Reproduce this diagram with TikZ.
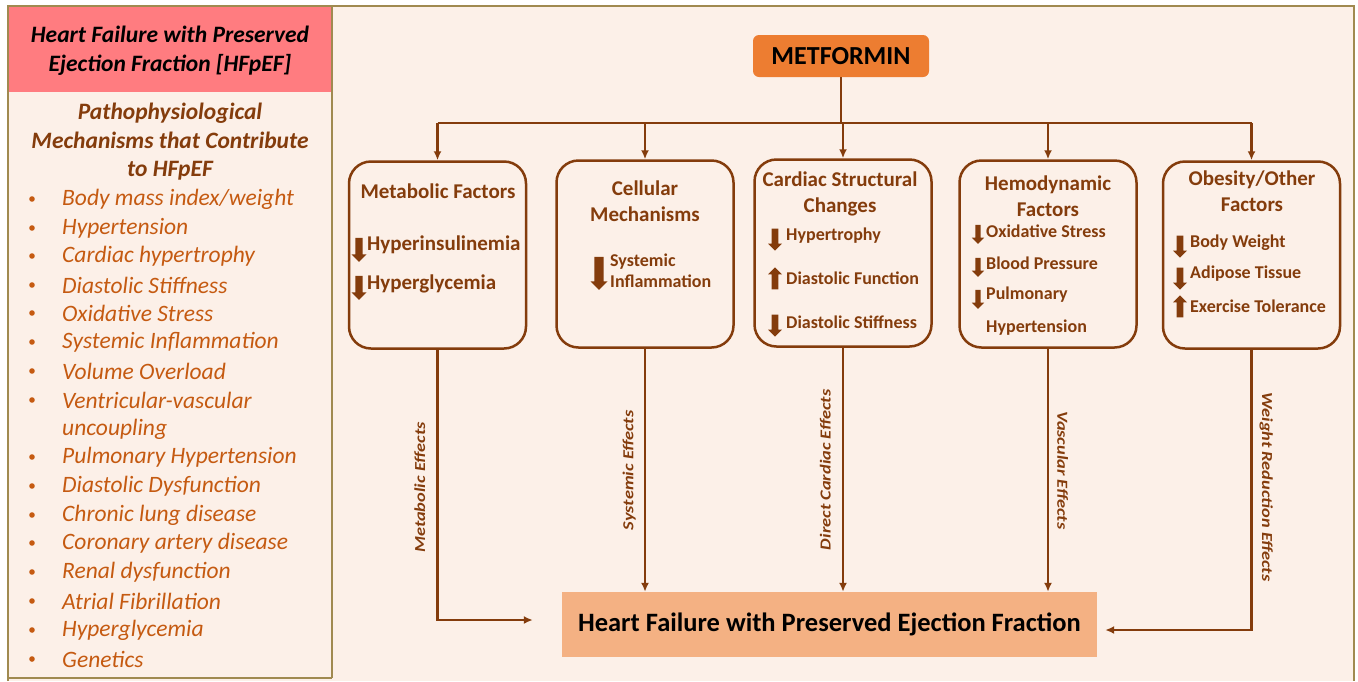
\documentclass[tikz,border=0pt]{standalone}
\usepackage{fontspec}
\setmainfont{Carlito}
\newfontfamily\effectfont[FakeStretch=1.2]{Carlito}
\usepackage{tikz}
\usetikzlibrary{calc,positioning,arrows.meta,shapes.arrows}

\definecolor{bgpeach}{RGB}{252,240,232}
\definecolor{frameolive}{RGB}{160,138,80}
\definecolor{headpink}{RGB}{255,124,128}
\definecolor{darkbrown}{RGB}{132,60,12}
\definecolor{itemorange}{RGB}{197,90,17}
\definecolor{metorange}{RGB}{237,125,49}
\definecolor{hfpeach}{RGB}{244,177,131}

\tikzset{
  factorbox/.style={draw=darkbrown, line width=2.5pt, rounded corners=22pt,
    minimum width=177pt, minimum height=187pt},
  boxtitle/.style={text=darkbrown, font=\fontsize{21}{25.5}\selectfont\bfseries,
    align=center, inner sep=0pt},
  boxitem/.style={text=darkbrown, font=\fontsize{18}{21}\selectfont\bfseries,
    anchor=west, inner sep=0pt},
  dnarr/.style={single arrow, fill=darkbrown, draw=none, shape border rotate=270,
    minimum height=22pt, minimum width=14pt, single arrow head extend=3.5pt,
    inner sep=3pt},
  uparr/.style={dnarr, shape border rotate=90},
  flow/.style={draw=darkbrown, line width=2.3pt},
  flowarr/.style={flow, -{Latex[length=9pt,width=8pt]}},
  effect/.style={text=darkbrown, font=\effectfont\fontsize{15.3}{17}\selectfont\bfseries\itshape,
    anchor=south, inner sep=9pt},
  leftitem/.style={text=itemorange, font=\fontsize{23.5}{26}\selectfont\itshape,
    anchor=west, inner sep=0pt}
}

\begin{document}
\begin{tikzpicture}[x=1pt, y=-1pt]
  \useasboundingbox (0,0) rectangle (1358,681);
  % frame and panels
  \fill[white] (0,0) rectangle (1358,681);
  \fill[bgpeach] (8,6) rectangle (1354,681);
  \draw[frameolive, line width=1.5pt] (8,681) -- (8,6) -- (1354,6) -- (1354,681);
  \draw[frameolive, line width=1.5pt] (332,6) -- (332,678);
  \draw[frameolive, line width=1.2pt] (8,678) -- (332,678);
  \fill[headpink] (9,7) rectangle (331,92);

  % left panel
  \node[font=\fontsize{23.5}{29}\selectfont\bfseries\itshape, align=center] (lhead) at (170,51)
    {Heart Failure with Preserved\\Ejection Fraction [HFpEF]};
  \node[text=darkbrown, font=\fontsize{23.5}{28.5}\selectfont\bfseries\itshape, align=center] (lsub) at (170,142)
    {Pathophysiological\\Mechanisms that Contribute\\to HFpEF};
  \foreach \yy/\t in {199/{Body mass index/weight}, 228/Hypertension, 256/Cardiac hypertrophy,
      285/Diastolic Stiffness, 313/Oxidative Stress, 342/Systemic Inflammation,
      371/Volume Overload, 400/Ventricular-vascular, 457/Pulmonary Hypertension,
      486/Diastolic Dysfunction, 515/Chronic lung disease, 543/Coronary artery disease,
      572/Renal dysfunction, 601/Atrial Fibrillation, 630/Hyperglycemia, 659/Genetics}{
    \fill[itemorange] (32,\yy) circle (2.8pt);
    \node[leftitem] at (62,\yy) {\t};
  }
  \node[leftitem] at (62,429) {uncoupling};

  % metformin and bus
  \node[fill=metorange, rounded corners=6pt, minimum width=176pt, minimum height=42pt,
    font=\fontsize{26}{28}\selectfont\bfseries] (met) at (841,56) {METFORMIN};
  \node[factorbox] (metab) at (437.5,255) {};
  \node[factorbox] (cell) at (645,254) {};
  \node[factorbox] (card) at (843,253) {};
  \node[factorbox] (hemo) at (1048,254) {};
  \node[factorbox] (obes) at (1251.5,255) {};
  \coordinate (bus) at (840,123);
  \draw[flow] (met.south) -- (met.south |- bus);
  \draw[flow] (bus -| metab.north) -- (bus -| obes.north);
  \foreach \b in {metab,cell,card,hemo,obes}
    \draw[flowarr] (bus -| \b.north) -- (\b.north);

  % box contents
  \node[boxtitle] (t1) at (438,191) {Metabolic Factors};
  \node[dnarr, minimum height=24pt, minimum width=15pt] (a11) at (359,248) {};
  \node[boxitem, font=\fontsize{21}{24}\selectfont\bfseries] at (367,245) {Hyperinsulinemia};
  \node[dnarr, minimum height=24pt, minimum width=15pt] (a12) at (359,286) {};
  \node[boxitem, font=\fontsize{21}{24}\selectfont\bfseries] at (367,284) {Hyperglycemia};

  \node[boxtitle] (t2) at (645,201) {Cellular\\Mechanisms};
  \node[dnarr, minimum height=33pt, minimum width=17pt, inner sep=4pt] (a21) at (599,271) {};
  \node[boxitem, align=left, font=\fontsize{18}{21}\selectfont\bfseries] at (610,271) {Systemic\\Inflammation};

  \node[boxtitle] (t3) at (840,194) {Cardiac Structural\\Changes};
  \node[dnarr] (a31) at (775,238) {};
  \node[boxitem] at (786,236) {Hypertrophy};
  \node[uparr] (a32) at (775,280) {};
  \node[boxitem] at (786,278) {Diastolic Function};
  \node[dnarr] (a33) at (775,324) {};
  \node[boxitem] at (786,322) {Diastolic Stiffness};

  \node[boxtitle] (t4) at (1048,196) {Hemodynamic\\Factors};
  \node[dnarr, minimum height=19pt, minimum width=12pt, inner sep=2.5pt] (a41) at (978,233) {};
  \node[boxitem] at (986,231) {Oxidative Stress};
  \node[dnarr, minimum height=19pt, minimum width=12pt, inner sep=2.5pt] (a42) at (978,266) {};
  \node[boxitem] at (986,263) {Blood Pressure};
  \node[dnarr, minimum height=19pt, minimum width=12pt, inner sep=2.5pt] (a43) at (978,298) {};
  \node[boxitem] at (986,295) {Pulmonary};
  \node[boxitem] at (986,328) {Hypertension};

  \node[boxtitle] (t5) at (1252,191) {Obesity/Other\\Factors};
  \node[dnarr] (a51) at (1180,245) {};
  \node[boxitem] at (1190,243) {Body Weight};
  \node[dnarr] (a52) at (1180,277) {};
  \node[boxitem] at (1190,274) {Adipose Tissue};
  \node[uparr] (a53) at (1180,308) {};
  \node[boxitem] at (1190,306) {Exercise Tolerance};

  % outcome
  \node[fill=hfpeach, minimum width=535pt, minimum height=65pt,
    font=\fontsize{26.5}{29}\selectfont\bfseries] (hf) at (829.5,624.5)
    {Heart Failure with Preserved Ejection Fraction};
  \draw[flowarr, shorten >=29pt] (metab.south) |- ([yshift=4.5pt]hf.west)
    node[effect, pos=0.255, rotate=90, inner sep=11pt] {Metabolic Effects};
  \draw[flowarr] (cell.south) -- (cell.south |- hf.north)
    node[effect, midway, rotate=90, inner sep=8pt] {Systemic Effects};
  \draw[flowarr] (card.south) -- (card.south |- hf.north)
    node[effect, midway, rotate=90, inner sep=11pt] {Direct Cardiac Effects};
  \draw[flowarr] (hemo.south) -- (hemo.south |- hf.north)
    node[effect, midway, rotate=-90, inner sep=8pt] {Vascular Effects};
  \draw[flowarr, shorten >=8pt] (obes.south) |- ([yshift=-5.5pt]hf.east)
    node[effect, pos=0.245, rotate=-90, inner sep=7pt] {Weight Reduction Effects};
\end{tikzpicture}
\end{document}
